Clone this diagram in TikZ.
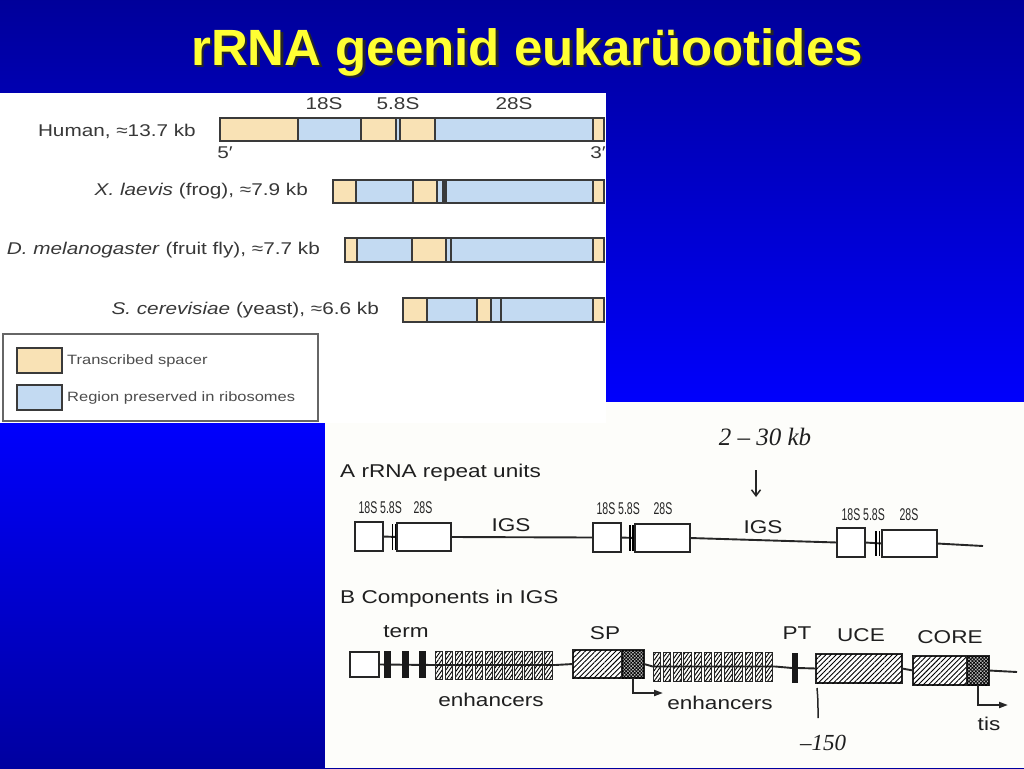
\documentclass[tikz,border=0pt]{standalone}
\usepackage{fontspec}
\setmainfont{Liberation Sans}
\newfontfamily\widesans[FakeStretch=1.22]{Liberation Sans}
\newfontfamily\narrowsans[FakeStretch=0.62]{Liberation Sans}
\newfontfamily\handfont{Liberation Serif}
\usetikzlibrary{patterns.meta,arrows.meta}
\definecolor{tanc}{HTML}{F9E2B5}
\definecolor{bluec}{HTML}{C3DAF2}
\definecolor{ttl}{HTML}{FFFF33}
\definecolor{barline}{HTML}{3A3A3A}
\definecolor{bgtop}{rgb}{0,0,0.24}
\definecolor{bgmid}{rgb}{0,0,1}
\definecolor{bgbot}{rgb}{0,0,0.22}
\definecolor{paper}{HTML}{FDFDFA}
\pgfdeclareverticalshading{slidebg}{100bp}{color(0bp)=(bgbot); color(48bp)=(bgmid); color(100bp)=(bgtop)}
\newcommand\titletext{rRNA geenid eukarüootides}
\begin{document}
\begin{tikzpicture}[x=1pt,y=-1pt,
  barbox/.style={draw=barline,line width=1.3pt,inner sep=0pt,outer sep=0pt},
  lab/.style={inner sep=0pt,text=black!78,font=\widesans\fontsize{17}{17}\selectfont},
  leglab/.style={inner sep=0pt,text=black!70,font=\widesans\fontsize{13.5}{13.5}\selectfont},
  swatch/.style={draw=barline,line width=1.3pt,inner sep=0pt,minimum width=45,minimum height=25},
  ubox/.style={draw=black!85,line width=1.5pt,fill=white,inner sep=0pt,outer sep=0pt},
  gline/.style={line width=1.9pt,draw=black!85},
  ulab/.style={inner sep=0pt,text=black!85,font=\narrowsans\fontsize{17}{17}\selectfont},
  blab/.style={inner sep=0pt,text=black!88,font=\widesans\fontsize{18.5}{18.5}\selectfont},
  hand/.style={inner sep=0pt,text=black!88,font=\handfont\itshape\fontsize{25}{25}\selectfont},
  tbar/.style={fill=black!90,inner sep=0pt,outer sep=0pt,minimum width=7,minimum height=27},
  ebox/.style={draw=black!85,line width=1pt,inner sep=0pt,minimum width=7.5,minimum height=28,
    pattern={Lines[angle=55,distance=3pt,line width=0.9pt]}},
  hbox/.style={draw=black!85,line width=1.5pt,fill=white,inner sep=0pt,outer sep=0pt,
    postaction={pattern={Lines[angle=45,distance=3.6pt,line width=0.9pt]}}},
  cbox/.style={draw=black!85,line width=1.5pt,fill=black!25,inner sep=0pt,outer sep=0pt,
    postaction={pattern={Hatch[angle=45,distance=2.4pt,line width=0.7pt]}}},
  arr/.style={gline,-{Triangle[length=9pt,width=6pt]}}
]
\useasboundingbox (0,0) rectangle (1024,768);
\shade[shading=slidebg] (0,0) rectangle (1024,768);

% title with shadow in one node
\node[anchor=base,inner sep=0pt,font=\bfseries\fontsize{51}{51}\selectfont] (title) at (527,65)
  {\makebox[0pt][l]{\hspace{2.5pt}\raisebox{-2.5pt}{\color{black!85}\titletext}}\color{ttl}\titletext};

% panels
\fill[white] (0,93) rectangle (606,423);
\fill[paper] (325,402) rectangle (1024,768);
\fill[white] (325,402) rectangle (606,423);

% ---------- top panel ----------
% Human
\fill[tanc] (220,118) rectangle (298,141);
\fill[bluec] (298,118) rectangle (361,141);
\fill[tanc] (361,118) rectangle (396,141);
\fill[bluec] (396,118) rectangle (400,141);
\fill[tanc] (400,118) rectangle (435,141);
\fill[bluec] (435,118) rectangle (593,141);
\fill[tanc] (593,118) rectangle (604,141);
\foreach \x/\w in {298/1.2,361/2.2,396/1.3,400/1.3,435/2,593/2.2}
  \draw[barline,line width=\w pt] (\x,118) -- (\x,141);
\node[barbox,minimum width=384,minimum height=23] (human) at (412,129.5) {};
\node[lab,anchor=east] (humanlab) at (196,131) {Human, ≈13.7 kb};
\node[lab] (l18) at (324,104) {18S};
\node[lab] (l58) at (398,104) {5.8S};
\node[lab] (l28) at (514,104) {28S};
\node[lab] (five) at (225,153) {5′};
\node[lab] (three) at (598,153) {3′};

% Frog
\fill[tanc] (333,180) rectangle (356,203);
\fill[bluec] (356,180) rectangle (413,203);
\fill[tanc] (413,180) rectangle (437,203);
\fill[bluec] (437,180) rectangle (593,203);
\fill[barline] (442,180) rectangle (447,203);
\fill[tanc] (593,180) rectangle (604,203);
\foreach \x/\w in {356/1.2,413/1.6,437/1.3,593/2.2}
  \draw[barline,line width=\w pt] (\x,180) -- (\x,203);
\node[barbox,minimum width=271,minimum height=23] (frog) at (468.5,191.5) {};
\node[lab,anchor=east] (froglab) at (308,191) {\textit{X. laevis} (frog), ≈7.9 kb};

% Fly
\fill[tanc] (345,238) rectangle (357,262);
\fill[bluec] (357,238) rectangle (412,262);
\fill[tanc] (412,238) rectangle (445,262);
\fill[bluec] (445,238) rectangle (593,262);
\fill[tanc] (593,238) rectangle (604,262);
\foreach \x/\w in {357/1.2,412/1.6,446/1.3,451/1.5,593/2.2}
  \draw[barline,line width=\w pt] (\x,238) -- (\x,262);
\node[barbox,minimum width=259,minimum height=24] (fly) at (474.5,250) {};
\node[lab,anchor=east] (flylab) at (320,250) {\textit{D. melanogaster} (fruit fly), ≈7.7 kb};

% Yeast
\fill[tanc] (403,298) rectangle (427,322);
\fill[bluec] (427,298) rectangle (477,322);
\fill[tanc] (477,298) rectangle (491,322);
\fill[bluec] (491,298) rectangle (593,322);
\fill[tanc] (593,298) rectangle (604,322);
\foreach \x/\w in {427/1.2,477/1.6,491/1.3,501/1.6,593/2.2}
  \draw[barline,line width=\w pt] (\x,298) -- (\x,322);
\node[barbox,minimum width=201,minimum height=24] (yeast) at (503.5,310) {};
\node[lab,anchor=east] (yeastlab) at (379,310) {\textit{S. cerevisiae} (yeast), ≈6.6 kb};

% legend
\node[draw=black!60,line width=1.5pt,inner sep=0pt,minimum width=315,minimum height=87] (legend) at (160.5,377.5) {};
\node[swatch,fill=tanc] (sw1) at (39.5,360.5) {};
\node[swatch,fill=bluec] (sw2) at (39.5,397.5) {};
\node[leglab,anchor=west] (lg1) at (67,361) {Transcribed spacer};
\node[leglab,anchor=west] (lg2) at (67,398) {Region preserved in ribosomes};

% ---------- bottom panel A ----------
\node[hand] (kb) at (765,437) {2 – 30 kb};
\coordinate (kbarrtop) at (756,470);
\coordinate (kbarrbot) at (756,497);
\draw[line width=1.5pt,black!85,-{Straight Barb[length=6pt,width=9pt]}] (kbarrtop) -- (kbarrbot);
\node[blab,anchor=west] (alab) at (340,473) {A rRNA repeat units};

% unit 1
\node[ubox,minimum width=28,minimum height=29] (u1a) at (369,536.5) {};
\node[ubox,minimum width=54,minimum height=28] (u1b) at (424,537) {};
\draw[gline] (u1a.east) -- (u1b.west);
\draw[line width=1.2pt] (392.5,524) -- (392.5,550) (395.5,524) -- (395.5,550);
\node[ulab] (u1l1) at (368,508) {18S};
\node[ulab] (u1l2) at (391,508) {5.8S};
\node[ulab] (u1l3) at (423,508) {28S};
% unit 2
\node[ubox,minimum width=28,minimum height=29] (u2a) at (607,537.5) {};
\node[ubox,minimum width=55,minimum height=28] (u2b) at (662.5,538) {};
\draw[gline] (u2a.east) -- (u2b.west);
\draw[line width=1.2pt] (630,525) -- (630,551) (633,525) -- (633,551);
\node[ulab] (u2l1) at (606,509) {18S};
\node[ulab] (u2l2) at (629,509) {5.8S};
\node[ulab] (u2l3) at (663,509) {28S};
% unit 3
\node[ubox,minimum width=28,minimum height=29] (u3a) at (851,542.5) {};
\node[ubox,minimum width=55,minimum height=27] (u3b) at (909.5,543.5) {};
\draw[gline] (u3a.east) -- (u3b.west);
\draw[line width=1.2pt] (876,531) -- (876,556) (879.5,531) -- (879.5,556);
\node[ulab] (u3l1) at (851,515) {18S};
\node[ulab] (u3l2) at (874,515) {5.8S};
\node[ulab] (u3l3) at (909,515) {28S};
\coordinate (tailA) at (983,546);
% IGS lines
\draw[gline] (u1b.east) -- (u2a.west);
\draw[gline] (u2b.east) -- (u3a.west);
\draw[gline] (u3b.east) -- (tailA);
\node[blab] (igs1) at (511,525) {IGS};
\node[blab] (igs2) at (763,527) {IGS};

% ---------- bottom panel B ----------
\node[blab,anchor=west] (blabel) at (340,599) {B Components in IGS};
\node[ubox,line width=1.9pt,minimum width=29,minimum height=25] (endbox) at (364.5,664.5) {};
\node[inner sep=0pt,minimum width=120,minimum height=28] (enh1) at (495,665) {};
\node[inner sep=0pt,minimum width=122,minimum height=29] (enh2) at (714,666.5) {};
\node[hbox,minimum width=49,minimum height=28] (sp) at (597.5,664) {};
\node[cbox,minimum width=22,minimum height=28] (spc) at (633,664) {};
\node[tbar,minimum width=6,minimum height=30] (pt) at (795,668) {};
\node[hbox,minimum width=86,minimum height=29] (uce) at (859,668.5) {};
\node[hbox,minimum width=54,minimum height=29] (core) at (940,670.5) {};
\node[cbox,minimum width=22,minimum height=29] (corec) at (978,670.5) {};
\coordinate (tailB) at (1017,672);
\coordinate (sparr) at (663,693);
\coordinate (tisarr) at (1008,705);
\coordinate (tickt) at (817,688);
\coordinate (tickb) at (818,718);

\draw[gline] (endbox.east) -- (enh1.west) -- (enh1.east);
\draw[gline] (enh1.east) -- (sp.west);
\draw[gline] (spc.east) -- (enh2.west) -- (enh2.east);
\draw[gline] (enh2.east) -- (pt.west);
\draw[gline] (pt.east) -- (uce.west);
\draw[gline] (uce.east) -- (core.west);
\draw[gline] (corec.east) -- (tailB);
\node[tbar] (t1) at (387.5,664.5) {};
\node[tbar] (t2) at (405.5,664.5) {};
\node[tbar] (t3) at (422.5,664.5) {};
\foreach \i in {0,...,11} \node[ebox] (ea\i) at (439+\i*9.95,665) {};
\foreach \i in {0,...,11} \node[ebox,minimum height=29] (eb\i) at (657+\i*10.2,666.5) {};
\draw[arr] (spc.south) |- (sparr);
\draw[arr] (corec.south) |- (tisarr);
\draw[line width=1.5pt,black!85] (tickt) .. controls (818,700) .. (tickb);

\node[blab] (term) at (406,632) {term};
\node[blab] (splab) at (605,633) {SP};
\node[blab] (ptlab) at (797,633) {PT};
\node[blab] (ucelab) at (861,635) {UCE};
\node[blab] (corelab) at (950,637) {CORE};
\node[blab] (en1) at (491,700) {enhancers};
\node[blab] (en2) at (720,703) {enhancers};
\node[blab] (tis) at (989,724) {tis};
\node[hand,font=\handfont\itshape\fontsize{23}{23}\selectfont] (m150) at (823,743) {–150};
\end{tikzpicture}
\end{document}
